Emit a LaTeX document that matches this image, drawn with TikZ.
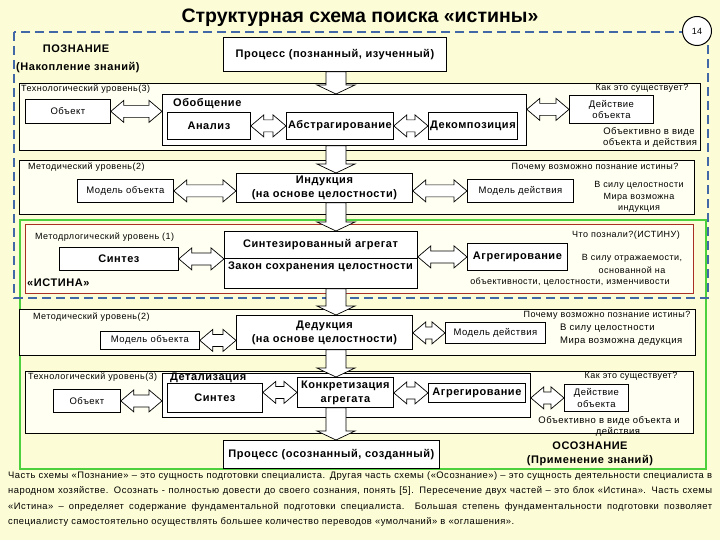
\documentclass[tikz,border=0pt]{standalone}
\usepackage{fontspec}
\setmainfont{Liberation Sans}[LetterSpace=5]
\newfontfamily\plainsans{Liberation Sans}
\usetikzlibrary{calc}
\definecolor{bgc}{RGB}{252,252,214}
\definecolor{bluedash}{RGB}{66,104,168}
\definecolor{grn}{RGB}{76,208,60}
\definecolor{redb}{RGB}{168,48,36}
\definecolor{boxfill}{RGB}{255,255,242}
\tikzset{
 bxs/.style={draw=black, line width=0.8pt, fill=white, inner sep=0pt, align=center, font=\fontsize{9.5}{11.5}\selectfont},
 bfeleven/.style={font=\fontsize{11}{14}\selectfont\bfseries},
 lvl/.style={draw=black, line width=0.8pt, fill=boxfill, inner sep=0pt},
 lbl/.style={inner sep=0pt, font=\fontsize{9}{11.5}\selectfont},
 lblb/.style={inner sep=0pt, font=\fontsize{9.5}{11.5}\selectfont},
 barr/.style={draw=black, line width=0.7pt, fill=white, line join=miter},
 para/.style={inner sep=0pt, anchor=base west, font=\fontsize{9.4}{12}\selectfont},
}
\newcommand\mybox[7][]{\node[bxs,#1,anchor=north west,minimum width={(#5-#3)*1pt},minimum height={(#6-#4)*1pt}] (#2) at (#3,#4) {#7};}
\newcommand\hdarr[3][6]{\draw[barr] let \p1=(#2), \p2=(#3) in (\x1,\y1) -- (\x1+13pt,\y1+11pt) -- (\x1+13pt,\y1+#1pt) -- (\x2-13pt,\y1+#1pt) -- (\x2-13pt,\y1+11pt) -- (\x2,\y1) -- (\x2-13pt,\y1-11pt) -- (\x2-13pt,\y1-#1pt) -- (\x1+13pt,\y1-#1pt) -- (\x1+13pt,\y1-11pt) -- cycle;}
\newcommand\vdarr[2]{\draw[barr] let \p1=(#1), \p2=(#2) in (\x1-10pt,\y1) -- (\x1+10pt,\y1) -- (\x1+10pt,\y2+9pt) -- (\x1+19pt,\y2+9pt) -- (\x1,\y2) -- (\x1-19pt,\y2+9pt) -- (\x1-10pt,\y2+9pt) -- cycle;}
\begin{document}
\begin{tikzpicture}[x=1pt,y=-1pt]
\fill[bgc] (0,0) rectangle (720,540);
\useasboundingbox (0,0) rectangle (720,540);
% title
\node[font=\plainsans\fontsize{19.5}{22}\selectfont\bfseries, inner sep=0pt] (title) at (360,18) {Структурная схема поиска «истины»};
% frames
\draw[grn, line width=2.5pt] (20,220) rectangle (706,469);
\draw[bluedash, line width=2.5pt, dash pattern=on 9pt off 5pt] (14,32) rectangle (708,298);
% level boxes
\mybox[lvl]{tech1}{19}{83}{700}{150}{}
\mybox[lvl]{meth1}{19}{160}{694}{214}{}
\mybox[lvl,draw=redb]{metl}{25}{224}{693}{293}{}
\mybox[lvl]{meth2}{19}{309}{695}{355}{}
\mybox[lvl]{tech2}{25}{371}{693}{433}{}
% top
\node[bfeleven, inner sep=0pt] (pozn) at (76,49) {ПОЗНАНИЕ};
\node[bfeleven, inner sep=0pt, anchor=west] (nakop) at (16,68) {(Накопление знаний)};
\mybox[bfeleven]{proc1}{223}{37}{446}{71}{Процесс (познанный, изученный)}
% tech level 1
\node[lbl,anchor=west] (t1lab) at (21,89) {Технологический уровень(3)};
\node[lbl] (q1) at (642,88) {Как  это существует?};
\mybox{obj1}{25}{99}{110}{123}{Объект}
\mybox{gen}{162}{94}{526}{145}{}
\node[bfeleven, inner sep=0pt, anchor=west] (genlab) at (173,104) {Обобщение};
\mybox[bfeleven]{anal}{167}{112}{250}{139}{Анализ}
\mybox[bfeleven]{abs}{286}{112}{393}{139}{Абстрагирование}
\mybox[bfeleven]{dec}{428}{112}{517}{139}{Декомпозиция}
\mybox{act1}{569}{95}{653}{123}{Действие\\объекта}
\node[lblb] (ob1a) at (649,132) {Объективно в виде};
\node[lblb] (ob1b) at (650,143) {объекта и действия};
% method level 1
\node[lbl,anchor=west] (m1lab) at (28,167) {Методический уровень(2)};
\mybox{mobj1}{77}{179}{173}{202}{Модель объекта}
\mybox[bfeleven]{ind}{236}{173}{412}{202}{Индукция\\(на основе целостности)}
\mybox{mact1}{467}{179}{573}{202}{Модель действия}
\node[lbl] (q2) at (595,167) {Почему возможно познание истины?};
\node[lbl, align=center] (a2) at (639,197) {В силу целостности\\Мира возможна\\индукция};
% methodological level
\node[lbl,anchor=west] (mlab) at (35,237) {Методрлогический уровень (1)};
\mybox[bfeleven]{syn1}{59}{247}{178}{270}{Синтез}
\mybox{agg}{224}{231}{417}{288}{}
\draw[line width=0.8pt] ($(agg.north west)+(0,27)$) -- ($(agg.north east)+(0,27)$);
\node[bfeleven, inner sep=0pt] (agg1) at (320.5,245) {Синтезированный агрегат};
\node[bfeleven, inner sep=0pt] (agg2) at (320.5,267) {Закон сохранения целостности};
\mybox[bfeleven]{aggr1}{467}{243}{567}{270}{Агрегирование}
\node[lbl] (q3) at (626,235) {Что познали?(ИСТИНУ)};
\node[lbl] (a3a) at (632,258) {В силу отражаемости,};
\node[lbl] (a3b) at (632,270) {основанной на};
\node[lbl] (a3c) at (570,282) {объективности, целостности, изменчивости};
\node[bfeleven, inner sep=0pt, anchor=west] (ist) at (27,283) {«ИСТИНА»};
% method level 2
\node[lbl,anchor=west] (m2lab) at (33,317) {Методический уровень(2)};
\mybox{mobj2}{100}{331}{199}{349}{Модель объекта}
\mybox[bfeleven]{ded}{236}{315}{412}{349}{Дедукция\\(на основе целостности)}
\mybox{mact2}{445}{322}{545}{343}{Модель действия}
\node[lbl] (q4) at (607,315) {Почему возможно познание истины?};
\node[lblb,anchor=west] (a4a) at (560,328) {В силу целостности};
\node[lblb,anchor=west] (a4b) at (560,341) {Мира возможна дедукция};
% tech level 2
\node[lbl,anchor=west] (t2lab) at (28,377) {Технологический уровень(3)};
\mybox{obj2}{53}{389}{120}{412}{Объект}
\mybox{det}{162}{373}{530}{417}{}
\node[bfeleven, inner sep=0pt, anchor=west] (detlab) at (170,378) {Детализация};
\mybox[bfeleven]{syn2}{167}{383}{262}{412}{Синтез}
\mybox[bfeleven]{konk}{297}{377}{393}{407}{Конкретизация\\агрегата}
\mybox[bfeleven]{aggr2}{428}{383}{525}{402}{Агрегирование}
\mybox{act2}{564}{384}{628}{411}{Действие\\объекта}
\node[lbl] (q5) at (631,376) {Как  это существует?};
\node[lblb] (ob2a) at (609,421) {Объективно в виде  объекта и};
\node[lblb] (ob2b) at (618,432) {действия};
% bottom
\mybox[bfeleven]{proc2}{223}{440}{439}{468}{Процесс (осознанный, созданный)}
\node[bfeleven, inner sep=0pt] (osoz) at (590,446) {ОСОЗНАНИЕ};
\node[bfeleven, inner sep=0pt] (prim) at (590,461) {(Применение знаний)};
% horizontal double arrows
\hdarr{obj1.east}{gen.west |- obj1.east}
\hdarr{anal.east}{abs.west}
\hdarr{abs.east}{dec.west}
\hdarr{gen.east |- act1.west}{act1.west}
\hdarr{mobj1.east}{ind.west |- mobj1.east}
\hdarr{ind.east |- mact1.west}{mact1.west}
\hdarr{syn1.east}{agg.west |- syn1.east}
\hdarr{agg.east |- aggr1.west}{aggr1.west}
\hdarr{mobj2.east}{ded.west |- mobj2.east}
\hdarr{ded.east |- mact2.west}{mact2.west}
\hdarr{obj2.east}{det.west |- obj2.east}
\hdarr{syn2.east |- konk.west}{konk.west}
\hdarr{konk.east |- aggr2.west}{aggr2.west}
\hdarr{det.east |- act2.west}{act2.west}
% vertical arrows
\coordinate (vx) at (336,0);
\vdarr{proc1.south -| vx}{gen.north -| vx}
\vdarr{gen.south -| vx}{ind.north -| vx}
\vdarr{ind.south -| vx}{agg.north -| vx}
\vdarr{agg.south -| vx}{ded.north -| vx}
\vdarr{ded.south -| vx}{konk.north -| vx}
\vdarr{konk.south -| vx}{proc2.north -| vx}
% page number
\node[circle, draw=black, line width=1pt, fill=white, minimum size=29pt, inner sep=0pt, font=\fontsize{9}{10}\selectfont] (pg) at (697,31) {14};
% paragraph
\node[para] (p1) at (8,478) {\makebox[704pt][s]{Часть схемы «Познание» – это сущность подготовки специалиста. Другая часть схемы («Осознание») – это сущность деятельности специалиста в}};
\node[para] (p2) at (8,493.5) {\makebox[704pt][s]{народном хозяйстве. Осознать - полностью довести до своего сознания, понять [5]. Пересечение двух частей – это блок «Истина». Часть схемы}};
\node[para] (p3) at (8,509) {\makebox[704pt][s]{«Истина» – определяет содержание фундаментальной подготовки специалиста. Большая степень фундаментальности подготовки позволяет}};
\node[para] (p4) at (8,524.5) {специалисту самостоятельно осуществлять большее количество переводов «умолчаний» в «оглашения».};
\end{tikzpicture}
\end{document}
